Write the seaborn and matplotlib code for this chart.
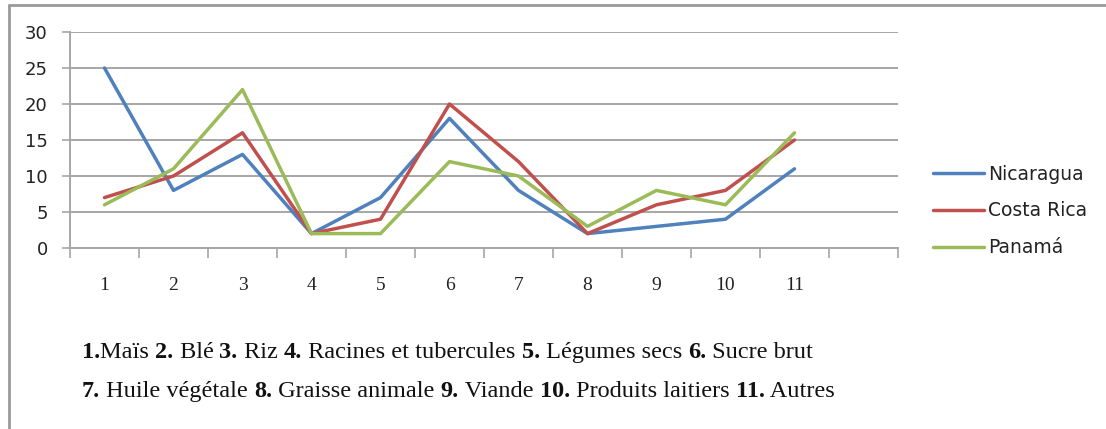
import numpy as np
import pandas as pd
import matplotlib
matplotlib.use("Agg")
from matplotlib import pyplot as plt
from matplotlib.lines import Line2D
import seaborn as sns

sns.set_style("white")

# Data -----------------------------------------------------------------------
categories = ["1", "2", "3", "4", "5", "6", "7", "8", "9", "10", "11"]
nicaragua = [25, 8, 13, 2, 7, 18, 8, 2, 3, 4, 11]
costa_rica = [7, 10, 16, 2, 4, 20, 12, 2, 6, 8, 15]
panama = [6, 11, 22, 2, 2, 12, 10, 3, 8, 6, 16]
series_names = ["Nicaragua", "Costa Rica", "Panamá"]
y_ticks = [0, 5, 10, 15, 20, 25, 30]

caption_line1 = [("1.", True), ("Maïs ", False), ("2.", True), (" Blé ", False),
                 ("3.", True), (" Riz ", False), ("4.", True),
                 (" Racines et tubercules ", False), ("5.", True),
                 (" Légumes secs ", False), ("6.", True), (" Sucre brut", False)]
caption_line2 = [("7.", True), (" Huile végétale ", False), ("8.", True),
                 (" Graisse animale ", False), ("9.", True), (" Viande ", False),
                 ("10.", True), (" Produits laitiers ", False), ("11.", True),
                 (" Autres", False)]

colors = ["#4F81BD", "#C0504D", "#9BBB59"]
grid_col = "#a6a6a6"

df = pd.DataFrame({
    "pos": list(range(len(categories))) * 3,
    "value": nicaragua + costa_rica + panama,
    "country": np.repeat(series_names, len(categories)),
})

# Figure ----------------------------------------------------------------------
W, H = 1106, 429
fig = plt.figure(figsize=(W / 100, H / 100), dpi=100)
ax = fig.add_axes([70 / W, (H - 248) / H, (898 - 70) / W, 216 / H])

sns.lineplot(data=df, x="pos", y="value", hue="country", hue_order=series_names,
             palette=colors, linewidth=2.5, legend=False, ax=ax)

ax.set_xlim(-0.5, 11.5)
ax.set_ylim(0, 30)
ax.set_xlabel("")
ax.set_ylabel("")

ax.set_yticks(y_ticks)
ax.set_yticklabels([str(t) for t in y_ticks], fontfamily="DejaVu Sans",
                   fontsize=13, color="#222222")
ax.tick_params(axis="y", length=6, width=1.2, color=grid_col, pad=10, left=True)

ax.set_xticks(range(len(categories)))
ax.set_xticklabels(categories, fontfamily="Liberation Serif", fontsize=14,
                   color="#222222")
ax.set_xticks(np.arange(-0.5, 12, 1), minor=True)
ax.tick_params(axis="x", which="major", length=0, pad=21)
ax.tick_params(axis="x", which="minor", length=7, width=1.2, color=grid_col,
               bottom=True)

ax.yaxis.grid(True, color=grid_col, linewidth=1.4)
ax.set_axisbelow(True)
for side in ["top", "right"]:
    ax.spines[side].set_visible(False)
for side in ["left", "bottom"]:
    ax.spines[side].set_color(grid_col)
    ax.spines[side].set_linewidth(1.4)

# legend
handles = ax.lines[:3]
leg = ax.legend(handles, series_names, loc="center left",
                bbox_to_anchor=(933 / W, (H - 211) / H),
                bbox_transform=fig.transFigure, frameon=False,
                borderpad=0, borderaxespad=0, handlelength=2.7,
                handletextpad=0.25, labelspacing=0.95,
                prop={"family": "DejaVu Sans", "size": 13.5})
for t in leg.get_texts():
    t.set_color("#222222")

# outer frame (left and top edges only, like the screenshot)
fig.add_artist(Line2D([9 / W, 9 / W], [0, 1 - 5 / H], color="#9a9a9a",
                      linewidth=2, transform=fig.transFigure))
fig.add_artist(Line2D([9 / W, 1], [1 - 5 / H, 1 - 5 / H], color="#9a9a9a",
                      linewidth=2, transform=fig.transFigure))

# caption with bold numbers, pieces chained one after the other
def write_line(parts, x, y):
    prev = None
    for txt, bold in parts:
        kw = dict(fontfamily="Liberation Serif", fontsize=17.5, color="#111111",
                  fontweight="bold" if bold else "normal", va="baseline",
                  ha="left")
        if prev is None:
            prev = fig.text(x, y, txt, **kw)
        else:
            prev = ax.annotate(txt, xy=(1, 0), xycoords=prev,
                               annotation_clip=False, **kw)
            prev.set_va("bottom")

write_line(caption_line1, 82 / W, (H - 358) / H)
write_line(caption_line2, 82 / W, (H - 397) / H)

fig.savefig("out.png", dpi=100)
